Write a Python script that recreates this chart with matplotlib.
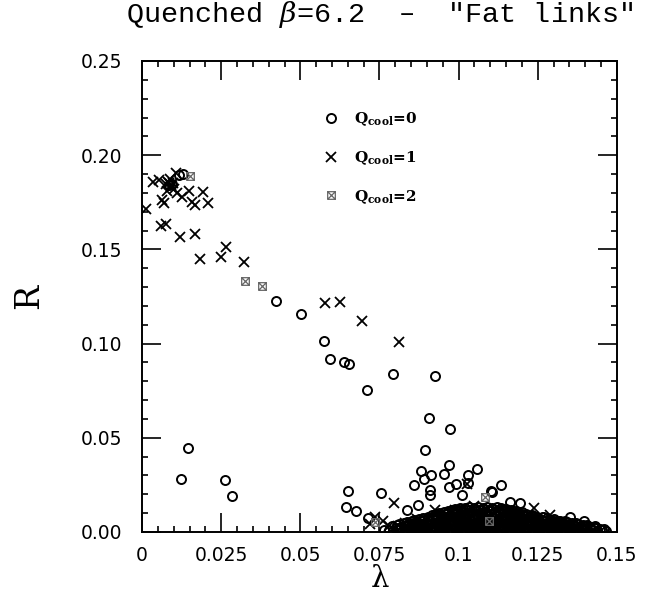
import numpy as np
import matplotlib
matplotlib.use("Agg")
import matplotlib.pyplot as plt
from matplotlib.path import Path

plt.rcParams["mathtext.fontset"] = "dejavuserif"

# Q_cool = 0, isolated points (circles)
q0_x = [0.0124, 0.0144, 0.0261, 0.0283, 0.0422, 0.0502, 0.0576, 0.0595,
        0.0639, 0.0655, 0.0711, 0.0793, 0.0924, 0.0906, 0.0974, 0.0895,
        0.0881, 0.0914, 0.0889, 0.0860, 0.0955, 0.0969, 0.1029, 0.1058,
        0.1029, 0.0971, 0.0993, 0.0908, 0.0908, 0.1134, 0.1103, 0.0755,
        0.1011, 0.0873, 0.0837, 0.0715, 0.0650, 0.0644, 0.0675, 0.1163,
        0.1193, 0.1353, 0.1395, 0.1432, 0.1105, 0.0085, 0.0095, 0.0118,
        0.0128]
q0_y = [0.0280, 0.0448, 0.0276, 0.0193, 0.1225, 0.1158, 0.1014, 0.0917,
        0.0904, 0.0890, 0.0754, 0.0837, 0.0830, 0.0607, 0.0545, 0.0435,
        0.0324, 0.0304, 0.0281, 0.0251, 0.0308, 0.0354, 0.0304, 0.0333,
        0.0262, 0.0237, 0.0255, 0.0223, 0.0196, 0.0250, 0.0219, 0.0209,
        0.0196, 0.0143, 0.0117, 0.0074, 0.0216, 0.0131, 0.0113, 0.0161,
        0.0152, 0.0078, 0.0058, 0.0032, 0.0214, 0.1840, 0.1848, 0.1893,
        0.1900]

# Q_cool = 0, the dense band near R = 0
band_x = [
    0.0765, 0.0779, 0.0794, 0.0808, 0.0822, 0.0836, 0.0851, 0.0865, 0.0879, 0.0894,
    0.0908, 0.0922, 0.0937, 0.0951, 0.0965, 0.0980, 0.0994, 0.1008, 0.1023, 0.1037,
    0.1051, 0.1066, 0.1080, 0.1094, 0.1108, 0.1123, 0.1137, 0.1151, 0.1166, 0.1180,
    0.1194, 0.1209, 0.1223, 0.1237, 0.1252, 0.1266, 0.1280, 0.1294, 0.1309, 0.1323,
    0.1337, 0.1352, 0.1366, 0.1380, 0.1395, 0.1409, 0.1423, 0.1438, 0.1452, 0.1466,
    0.0790, 0.0805, 0.0819, 0.0834, 0.0848, 0.0863, 0.0877, 0.0892, 0.0906, 0.0921,
    0.0935, 0.0950, 0.0964, 0.0979, 0.0993, 0.1008, 0.1022, 0.1037, 0.1051, 0.1066,
    0.1080, 0.1095, 0.1109, 0.1124, 0.1138, 0.1153, 0.1167, 0.1182, 0.1196, 0.1211,
    0.1225, 0.1240, 0.1254, 0.1269, 0.1283, 0.1298, 0.1312, 0.1327, 0.1341, 0.1356,
    0.1370, 0.1385, 0.1399, 0.1414, 0.1430,
    0.0838, 0.0852, 0.0867, 0.0881, 0.0896, 0.0910, 0.0925, 0.0939, 0.0953, 0.0968,
    0.0982, 0.0997, 0.1011, 0.1025, 0.1040, 0.1054, 0.1069, 0.1083, 0.1098, 0.1112,
    0.1126, 0.1141, 0.1155, 0.1170, 0.1184, 0.1199, 0.1213, 0.1227, 0.1242, 0.1256,
    0.1271, 0.1285, 0.1300, 0.1314, 0.1328, 0.1343, 0.1357, 0.1372,
    0.0888, 0.0903, 0.0917, 0.0932, 0.0946, 0.0961, 0.0975, 0.0990, 0.1004, 0.1019,
    0.1033, 0.1048, 0.1062, 0.1077, 0.1091, 0.1106, 0.1120, 0.1135, 0.1149, 0.1164,
    0.1178, 0.1193, 0.1207, 0.1222, 0.1236, 0.1251, 0.1265, 0.1280, 0.1302,
    0.0938, 0.0953, 0.0967, 0.0982, 0.0996, 0.1011, 0.1025, 0.1040, 0.1054, 0.1069,
    0.1083, 0.1098, 0.1112, 0.1127, 0.1141, 0.1156, 0.1170, 0.1185, 0.1199, 0.1214,
    0.1232,
    0.0990, 0.1004, 0.1019, 0.1033, 0.1048, 0.1062, 0.1077, 0.1091, 0.1106, 0.1120,
    0.1135, 0.1149, 0.1165,
]
band_y = [
    0.0008, 0.0012, 0.0005, 0.0010, 0.0007, 0.0013, 0.0006, 0.0011, 0.0004, 0.0009,
    0.0012, 0.0006, 0.0010, 0.0005, 0.0013, 0.0008, 0.0011, 0.0006, 0.0009, 0.0012,
    0.0005, 0.0010, 0.0007, 0.0013, 0.0006, 0.0011, 0.0008, 0.0004, 0.0012, 0.0009,
    0.0006, 0.0011, 0.0007, 0.0013, 0.0005, 0.0010, 0.0008, 0.0012, 0.0006, 0.0009,
    0.0011, 0.0005, 0.0010, 0.0007, 0.0012, 0.0006, 0.0009, 0.0005, 0.0008, 0.0006,
    0.0031, 0.0035, 0.0028, 0.0033, 0.0037, 0.0030, 0.0034, 0.0029, 0.0036, 0.0032,
    0.0027, 0.0034, 0.0031, 0.0036, 0.0029, 0.0033, 0.0037, 0.0030, 0.0035, 0.0028,
    0.0032, 0.0036, 0.0030, 0.0034, 0.0029, 0.0033, 0.0037, 0.0031, 0.0035, 0.0028,
    0.0032, 0.0036, 0.0030, 0.0034, 0.0029, 0.0033, 0.0031, 0.0035, 0.0028, 0.0032,
    0.0030, 0.0027, 0.0031, 0.0026, 0.0024,
    0.0052, 0.0058, 0.0055, 0.0060, 0.0053, 0.0057, 0.0061, 0.0054, 0.0059, 0.0056,
    0.0062, 0.0053, 0.0058, 0.0055, 0.0060, 0.0054, 0.0057, 0.0061, 0.0053, 0.0059,
    0.0056, 0.0062, 0.0054, 0.0058, 0.0055, 0.0060, 0.0053, 0.0057, 0.0061, 0.0054,
    0.0058, 0.0055, 0.0052, 0.0056, 0.0050, 0.0053, 0.0048, 0.0046,
    0.0076, 0.0082, 0.0079, 0.0085, 0.0077, 0.0081, 0.0086, 0.0078, 0.0083, 0.0080,
    0.0087, 0.0077, 0.0082, 0.0079, 0.0085, 0.0078, 0.0083, 0.0080, 0.0086, 0.0077,
    0.0082, 0.0079, 0.0084, 0.0078, 0.0081, 0.0076, 0.0079, 0.0072, 0.0068,
    0.0099, 0.0104, 0.0101, 0.0107, 0.0103, 0.0108, 0.0100, 0.0105, 0.0109, 0.0102,
    0.0106, 0.0110, 0.0103, 0.0107, 0.0101, 0.0105, 0.0102, 0.0099, 0.0097, 0.0094,
    0.0090,
    0.0124, 0.0129, 0.0126, 0.0131, 0.0127, 0.0133, 0.0128, 0.0132, 0.0126, 0.0130,
    0.0127, 0.0122, 0.0118,
]

# more band points lying between the rows above
band2_x = [
    0.0801, 0.0815, 0.0829, 0.0844, 0.0858, 0.0872, 0.0887, 0.0901, 0.0915, 0.0930,
    0.0944, 0.0958, 0.0973, 0.0987, 0.1001, 0.1015, 0.1030, 0.1044, 0.1058, 0.1073,
    0.1087, 0.1101, 0.1116, 0.1130, 0.1144, 0.1159, 0.1173, 0.1187, 0.1202, 0.1216,
    0.1230, 0.1245, 0.1259, 0.1273, 0.1288, 0.1302, 0.1316, 0.1330, 0.1345, 0.1359,
    0.1373, 0.1388, 0.1402, 0.1416, 0.1431, 0.1445, 0.1459,
    0.0812, 0.0826, 0.0841, 0.0855, 0.0870, 0.0884, 0.0899, 0.0913, 0.0928, 0.0942,
    0.0957, 0.0971, 0.0986, 0.1000, 0.1015, 0.1029, 0.1044, 0.1058, 0.1073, 0.1087,
    0.1102, 0.1116, 0.1131, 0.1145, 0.1160, 0.1174, 0.1189, 0.1203, 0.1218, 0.1232,
    0.1247, 0.1261, 0.1276, 0.1290, 0.1305, 0.1319, 0.1334, 0.1348, 0.1363, 0.1377,
    0.1392, 0.1406,
    0.0860, 0.0874, 0.0889, 0.0903, 0.0918, 0.0932, 0.0946, 0.0961, 0.0975, 0.0990,
    0.1004, 0.1018, 0.1033, 0.1047, 0.1062, 0.1076, 0.1090, 0.1105, 0.1119, 0.1134,
    0.1148, 0.1162, 0.1177, 0.1191, 0.1206, 0.1220, 0.1234, 0.1249, 0.1263, 0.1278,
    0.1292, 0.1306, 0.1321, 0.1337,
    0.0915, 0.0929, 0.0944, 0.0958, 0.0973, 0.0987, 0.1001, 0.1016, 0.1030, 0.1045,
    0.1059, 0.1073, 0.1088, 0.1102, 0.1117, 0.1131, 0.1145, 0.1160, 0.1174, 0.1189,
    0.1203, 0.1217, 0.1232, 0.1248, 0.1265,
    0.0965, 0.0979, 0.0994, 0.1008, 0.1023, 0.1037, 0.1051, 0.1066, 0.1080, 0.1095,
    0.1109, 0.1123, 0.1138, 0.1152, 0.1167, 0.1181, 0.1200,
]
band2_y = [
    0.0019, 0.0023, 0.0017, 0.0021, 0.0024, 0.0018, 0.0022, 0.0020, 0.0016, 0.0023,
    0.0019, 0.0022, 0.0017, 0.0021, 0.0024, 0.0018, 0.0020, 0.0023, 0.0017, 0.0022,
    0.0019, 0.0021, 0.0024, 0.0018, 0.0022, 0.0016, 0.0020, 0.0023, 0.0019, 0.0021,
    0.0017, 0.0024, 0.0020, 0.0018, 0.0022, 0.0019, 0.0023, 0.0017, 0.0021, 0.0020,
    0.0018, 0.0022, 0.0019, 0.0017, 0.0020, 0.0016, 0.0015,
    0.0043, 0.0047, 0.0041, 0.0045, 0.0048, 0.0042, 0.0046, 0.0044, 0.0040, 0.0047,
    0.0043, 0.0046, 0.0041, 0.0045, 0.0048, 0.0042, 0.0044, 0.0047, 0.0041, 0.0046,
    0.0043, 0.0045, 0.0048, 0.0042, 0.0046, 0.0040, 0.0044, 0.0047, 0.0043, 0.0045,
    0.0041, 0.0046, 0.0043, 0.0040, 0.0044, 0.0041, 0.0039, 0.0042, 0.0038, 0.0040,
    0.0036, 0.0035,
    0.0066, 0.0070, 0.0065, 0.0069, 0.0072, 0.0067, 0.0071, 0.0068, 0.0064, 0.0070,
    0.0067, 0.0071, 0.0066, 0.0069, 0.0073, 0.0067, 0.0070, 0.0072, 0.0066, 0.0071,
    0.0068, 0.0070, 0.0073, 0.0067, 0.0069, 0.0065, 0.0068, 0.0064, 0.0066, 0.0062,
    0.0063, 0.0059, 0.0060, 0.0056,
    0.0089, 0.0093, 0.0090, 0.0095, 0.0092, 0.0096, 0.0091, 0.0094, 0.0097, 0.0092,
    0.0095, 0.0098, 0.0093, 0.0096, 0.0094, 0.0097, 0.0092, 0.0095, 0.0091, 0.0093,
    0.0089, 0.0087, 0.0084, 0.0082, 0.0079,
    0.0112, 0.0115, 0.0118, 0.0114, 0.0119, 0.0116, 0.0120, 0.0117, 0.0121, 0.0118,
    0.0120, 0.0116, 0.0119, 0.0115, 0.0113, 0.0110, 0.0107,
]

# Q_cool = 1 (crosses)
q1_x = [0.0014, 0.0035, 0.0053, 0.0063, 0.0070, 0.0075, 0.0082, 0.0090,
        0.0098, 0.0088, 0.0102, 0.0078, 0.0085, 0.0093, 0.0107, 0.0111,
        0.0126, 0.0149, 0.0158, 0.0168, 0.0193, 0.0207, 0.0060, 0.0077,
        0.0121, 0.0166, 0.0182, 0.0249, 0.0265, 0.0321, 0.0579, 0.0626,
        0.0695, 0.0811, 0.0795, 0.0737, 0.0926, 0.1237, 0.1290, 0.1025,
        0.0720, 0.0760, 0.0780, 0.0830, 0.0870, 0.0900, 0.0960, 0.0990,
        0.1030, 0.1070, 0.1100, 0.1140, 0.1170, 0.1200, 0.1250, 0.1320,
        0.1390, 0.0860, 0.0940, 0.1010, 0.1060, 0.1120, 0.1180, 0.1230,
        0.1280, 0.1340, 0.1050, 0.1110, 0.1160]
q1_y = [0.1713, 0.1858, 0.1869, 0.1763, 0.1745, 0.1845, 0.1860, 0.1830,
        0.1855, 0.1875, 0.1820, 0.1810, 0.1850, 0.1840, 0.1905, 0.1797,
        0.1780, 0.1812, 0.1754, 0.1736, 0.1802, 0.1745, 0.1623, 0.1637,
        0.1565, 0.1580, 0.1451, 0.1462, 0.1512, 0.1434, 0.1218, 0.1223,
        0.1120, 0.1011, 0.0155, 0.0081, 0.0117, 0.0126, 0.0090, 0.0255,
        0.0040, 0.0060, 0.0030, 0.0045, 0.0068, 0.0020, 0.0090, 0.0115,
        0.0066, 0.0118, 0.0044, 0.0093, 0.0068, 0.0042, 0.0066, 0.0043,
        0.0020, 0.0020, 0.0067, 0.0092, 0.0021, 0.0117, 0.0093, 0.0044,
        0.0045, 0.0022, 0.0140, 0.0070, 0.0113]

# Q_cool = 2
q2_x = [0.0153, 0.0326, 0.0380, 0.1084, 0.0737, 0.1095]
q2_y = [0.1887, 0.1334, 0.1308, 0.0187, 0.0055, 0.0060]

labels = [r"Q$_{\bf cool}$=0", r"Q$_{\bf cool}$=1", r"Q$_{\bf cool}$=2"]

# marker for Q_cool=2: cross inside a box
q2_marker = Path([(-1, -1), (1, 1), (-1, 1), (1, -1),
                  (-1, -1), (-1, 1), (1, 1), (1, -1), (-1, -1)],
                 [Path.MOVETO, Path.LINETO, Path.MOVETO, Path.LINETO,
                  Path.MOVETO, Path.LINETO, Path.LINETO, Path.LINETO, Path.LINETO])

fig = plt.figure(figsize=(6.52, 6.05), dpi=100)
ax = fig.add_axes([0.2178, 0.1207, 0.7285, 0.7785])

ax.plot(band_x, band_y, "o", ms=6.5, mfc="none", mec="black", mew=1.4)
ax.plot(band2_x, band2_y, "o", ms=6.5, mfc="none", mec="black", mew=1.4)
h0, = ax.plot(q0_x, q0_y, "o", ms=6.5, mfc="none", mec="black", mew=1.4)
h1, = ax.plot(q1_x, q1_y, "x", ms=7, color="black", mew=1.3)
h2, = ax.plot(q2_x, q2_y, linestyle="none", marker=q2_marker, ms=5.5,
              color="0.4", mfc="none", mew=0.9)

ax.set_xlim(0, 0.15)
ax.set_ylim(0, 0.25)
ax.set_xticks([0, 0.025, 0.05, 0.075, 0.1, 0.125, 0.15])
ax.set_xticklabels(["0", "0.025", "0.05", "0.075", "0.1", "0.125", "0.15"])
ax.set_yticks([0, 0.05, 0.1, 0.15, 0.2, 0.25])
ax.set_yticklabels(["0.00", "0.05", "0.10", "0.15", "0.20", "0.25"])
ax.set_xticks(np.arange(0, 0.1501, 0.005), minor=True)
ax.set_yticks(np.arange(0, 0.2501, 0.01), minor=True)
ax.tick_params(which="both", direction="in", top=True, right=True, width=1.2)
ax.tick_params(which="major", length=13.5, labelsize=13.5)
ax.tick_params(which="minor", length=4.3)
ax.tick_params(axis="y", pad=14)
ax.tick_params(axis="x", pad=10)
for s in ax.spines.values():
    s.set_linewidth(1.4)

ax.set_xlabel("λ", fontsize=21, family="DejaVu Serif", labelpad=0)
ax.set_ylabel("R", fontsize=24, family="DejaVu Serif", labelpad=26)
ax.set_title(r'Quenched $\beta$=6.2  –  "Fat links"', fontsize=20.5,
             family="Liberation Mono", pad=28)

ax.legend([h0, h1, h2], labels, loc="upper left", bbox_to_anchor=(0.3825, 0.895),
          frameon=False, handlelength=1.0, handletextpad=1.0,
          labelspacing=1.38, borderpad=0, borderaxespad=0,
          prop={"family": "DejaVu Serif", "size": 11, "weight": "bold"})

fig.savefig("out.png", dpi=100)
